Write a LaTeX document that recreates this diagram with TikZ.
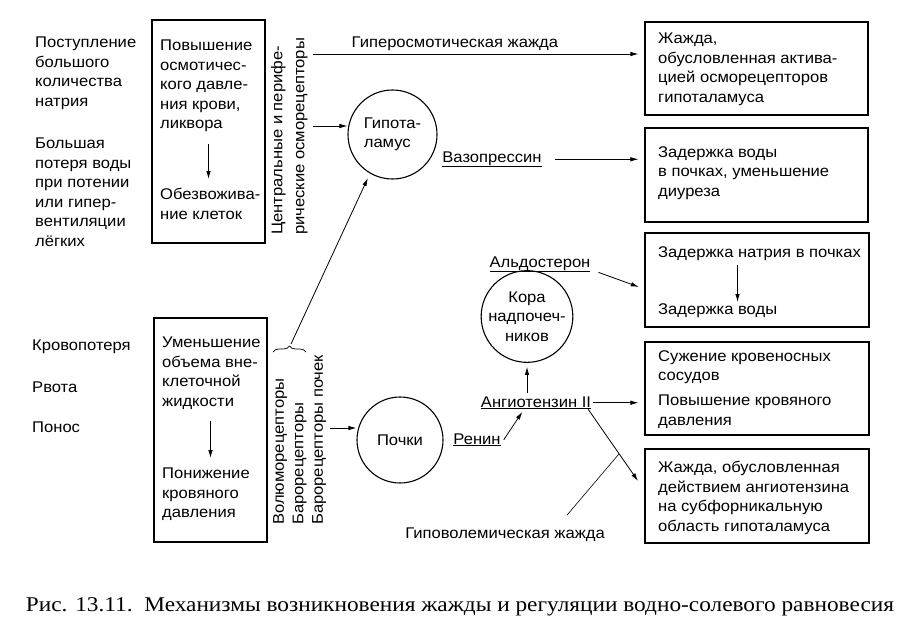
\documentclass[tikz,border=0pt]{standalone}
\usepackage{fontspec}
\setmainfont{Liberation Sans}[FakeStretch=1.07]
\newfontfamily\capfont{Liberation Serif}[FakeStretch=1.11]
\usetikzlibrary{arrows.meta,calc,decorations.pathreplacing}

\begin{document}
\begin{tikzpicture}[x=1pt, y=-1pt,
  font=\fontsize{15.5}{19.5}\selectfont,
  arr/.style = {-{Latex[length=8pt,width=4.5pt]}, line width=0.8pt},
  gaparr/.style = {arr, shorten >=6pt},
  box/.style = {draw, line width=1.1pt, inner sep=0pt},
  organ/.style = {draw, circle, line width=1.1pt, inner sep=0pt, align=center},
  txt/.style = {align=left, inner sep=0pt, anchor=north west},
  rot/.style = {rotate=90, align=left, inner sep=0pt, anchor=north west},
  lbl/.style = {inner sep=0pt},
]
\useasboundingbox (0,0) rectangle (914,640);

% Causes
\node[txt] (sodium) at (35,37) {Поступление\\большого\\количества\\натрия};
\node[txt] (waterloss) at (35,138) {Большая\\потеря воды\\при потении\\или гипер-\\вентиляции\\лёгких};
\node[lbl, anchor=west] (bloodloss) at (32,347) {Кровопотеря};
\node[lbl, anchor=west] (vomit) at (32,387) {Рвота};
\node[lbl, anchor=west] (diarr) at (32,427) {Понос};

% Left boxes
\node[box, minimum width=113, minimum height=223] (osmbox) at (208.5,131.5) {};
\node[txt] (osmup) at (160,40) {Повышение\\осмотичес-\\кого давле-\\ния крови,\\ликвора};
\node[txt] (dehyd) at (160,188) {Обезвожива-\\ние клеток};
\draw[arr, shorten <=12pt, shorten >=9pt] (osmup.south -| osmbox.center) -- (dehyd.north -| osmbox.center);

\node[box, minimum width=113, minimum height=224] (volbox) at (210.5,430) {};
\node[txt] (volume) at (162,337) {Уменьшение\\объема вне-\\клеточной\\жидкости};
\node[txt] (pressure) at (162,468) {Понижение\\кровяного\\давления};
\draw[arr, shorten <=11pt, shorten >=10pt] (volume.south -| volbox.center) -- (pressure.north -| volbox.center);

% Receptors
\node[rot, font=\fontsize{15.5}{22}\selectfont] (osmorec) at (271,235) {Центральные и перифе-\\рические осморецепторы};
\node[rot] (barorec) at (273,525) {Волюморецепторы\\Барорецепторы\\Барорецепторы почек};
\draw[line width=0.7pt, decorate, decoration={brace, amplitude=6pt}] (273,352) -- (306,352);
\coordinate (bracetip) at (291,344);
\coordinate (osmoA) at (313,54);
\coordinate (osmoB) at (313,126);
\coordinate (baroA) at (330,428);

% Organs
\node[organ, minimum size=89, align=left] (hypo) at (392.5,134.5) {Гипота-\\ламус};
\node[organ, minimum size=86] (kidney) at (400,440) {Почки};
\node[organ, minimum size=91] (adrenal) at (527,316.5) {Кора\\надпочеч-\\ников};

% Hormones
\node[lbl, anchor=base] (vaso) at (492,162) {\underline{Вазопрессин}};
\node[lbl, anchor=base] (aldo) at (540,267) {\underline{Альдостерон}};
\node[lbl, anchor=base] (renin) at (477,444) {\underline{Ренин}};
\node[lbl, anchor=base] (angio) at (536,407) {\underline{Ангиотензин II}};
\node[lbl, anchor=base] (hypovol) at (505,538) {Гиповолемическая жажда};

% Effects
\node[box, minimum width=223, minimum height=93] (r1) at (756.5,68.5) {};
\node[box, minimum width=223, minimum height=94] (r2) at (756.5,175) {};
\node[box, minimum width=224, minimum height=94] (r3) at (757,280) {};
\node[box, minimum width=224, minimum height=93] (r4) at (757,388.5) {};
\node[box, minimum width=224, minimum height=94] (r5) at (757,496) {};
\node[txt] (osmthirst) at (658,33) {Жажда,\\обусловленная актива-\\цией осморецепторов\\гипоталамуса};
\node[txt] (retain) at (658,146) {Задержка воды\\в почках, уменьшение\\диуреза};
\node[txt] (naretain) at (658,246) {Задержка натрия в почках};
\node[txt] (h2oretain) at (658,303) {Задержка воды};
\node[txt] (vasocon) at (658,350) {Сужение кровеносных\\сосудов};
\node[txt] (bprise) at (658,395) {Повышение кровяного\\давления};
\node[txt] (angthirst) at (658,461) {Жажда, обусловленная\\действием ангиотензина\\на субфорникальную\\область гипоталамуса};
\draw[arr, shorten <=5pt, shorten >=1pt] ([xshift=-22pt]naretain.south) -- ([xshift=-22pt]naretain.south |- h2oretain.north);
\coordinate (thirstin) at (638,481);

% Arrows
\draw[gaparr] (osmoA) -- (osmoA -| r1.west) node[lbl, pos=0.428, above=3pt] {Гиперосмотическая жажда};
\draw[arr] (osmoB) -- (osmoB -| hypo.west);
\draw[gaparr] ([xshift=13pt]vaso.east) -- (vaso.east -| r2.west);
\draw[arr, shorten >=5pt] (bracetip) -- (hypo.240);
\draw[arr] (baroA) -- (baroA -| kidney.west);
\draw[arr, shorten >=3pt] ([xshift=3pt]renin.east) -- ([xshift=-12pt]angio.south);
\draw[arr, shorten <=3pt, shorten >=4pt] (angio.north -| adrenal.south) -- (adrenal.south);
\draw[gaparr] ([xshift=2pt]angio.east) -- (angio.east -| r4.west);
\draw[arr] ([xshift=-3pt]angio.south east) -- coordinate[pos=0.62] (onarrow) (thirstin);
\draw[line width=0.6pt] ([xshift=62pt, yshift=12pt]hypovol.north) -- (onarrow);
\draw[gaparr] ([xshift=8pt]aldo.south east) -- ([yshift=-9pt]r3.west);

% Caption
\node[lbl, anchor=base, font=\capfont\fontsize{21}{25}\selectfont] (caption) at (460,611) {Рис. 13.11.\ \ Механизмы возникновения жажды и регуляции водно-солевого равновесия};
\end{tikzpicture}
\end{document}
